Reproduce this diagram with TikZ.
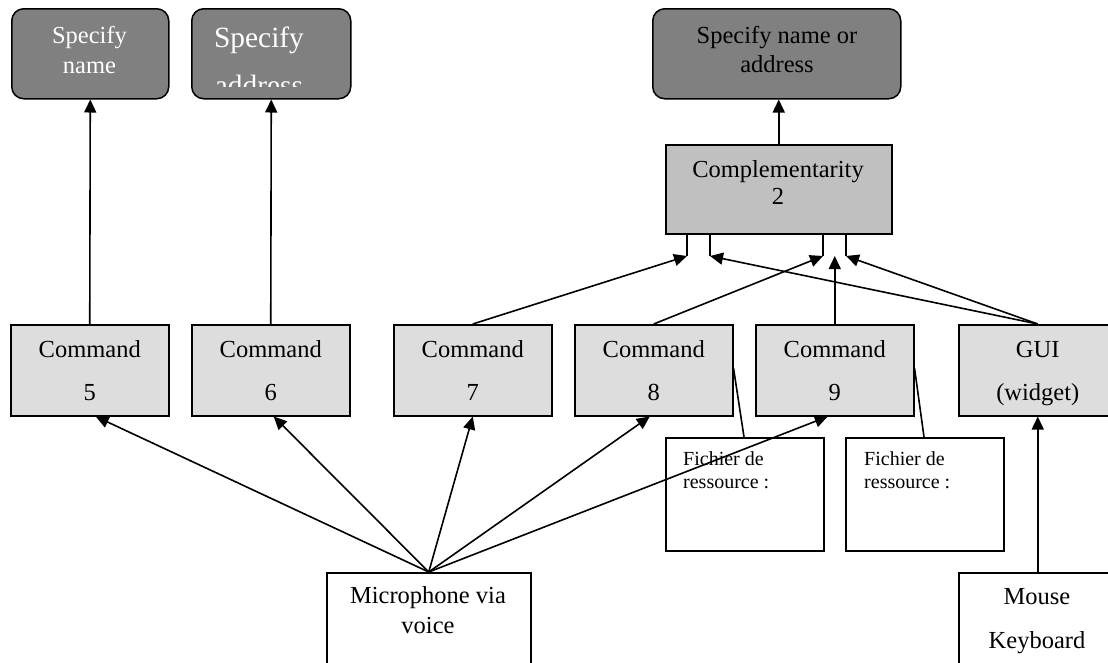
\documentclass[tikz,border=0pt]{standalone}
\usepackage{fontspec}
\setmainfont{Liberation Serif}
\usetikzlibrary{arrows.meta}
\definecolor{goaldark}{HTML}{808080}
\definecolor{compgray}{HTML}{C0C0C0}
\definecolor{cmdgray}{HTML}{DDDDDD}
\tikzset{
  box/.style={draw=black, line width=1.5pt, inner sep=0pt, anchor=north west},
  goal/.style={box, fill=goaldark, rounded corners=12pt},
  cmd/.style={box, fill=cmdgray, minimum width=158pt, minimum height=91pt},
  plain/.style={box, fill=white},
  txt/.style={anchor=base, inner sep=0pt, font=\fontsize{24.5}{28}\selectfont},
  wtxt/.style={txt, text=white},
  small/.style={anchor=base west, inner sep=0pt, font=\fontsize{20}{24}\selectfont},
  link/.style={line width=1.6pt},
  arr/.style={link, -{Triangle[length=13pt,width=12pt]}}
}
\begin{document}
\begin{tikzpicture}[x=1pt,y=-1pt]
\useasboundingbox (0,0) rectangle (1108,662);
\clip (0,0) rectangle (1108,662);

% goal boxes
\node[goal, minimum width=157pt, minimum height=90pt] (g1) at (11,8) {};
\node[goal, minimum width=159pt, minimum height=90pt] (g2) at (191,8) {};
\node[goal, minimum width=248pt, minimum height=90pt] (g3) at (652,8) {};
\node[wtxt] (g1a) at (89.5,43) {Specify};
\node[wtxt] (g1b) at (89.5,73) {name};
\node[txt] (g3a) at (777,43) {Specify name or};
\node[txt] (g3b) at (777,72) {address};
\begin{scope}
  \clip (195,12) rectangle (346,86);
  \node[wtxt, font=\fontsize{29.4}{34}\selectfont] (g2a) at (259,47) {Specify};
  \node[wtxt, font=\fontsize{29.4}{34}\selectfont] (g2b) at (259,95) {address};
\end{scope}

% complementarity
\node[box, fill=compgray, minimum width=226pt, minimum height=89pt] (comp) at (665,144) {};
\node[txt] (compa) at (778,177) {Complementarity};
\node[txt] (compb) at (778,204) {2};

% commands
\node[cmd] (c5) at (10,324) {};
\node[cmd] (c6) at (191,324) {};
\node[cmd] (c7) at (393,324) {};
\node[cmd] (c8) at (574,324) {};
\node[cmd] (c9) at (755,324) {};
\node[cmd] (gui) at (958,324) {};
\foreach \n/\t in {c5/5, c6/6, c7/7, c8/8, c9/9}{
  \node[txt] (\n a) at ([yshift=-33pt]\n.north) {Command};
  \node[txt] (\n b) at ([yshift=-76pt]\n.north) {\t};
}
\node[txt] (guia) at ([yshift=-33pt]gui.north) {GUI};
\node[txt] (guib) at ([yshift=-76pt]gui.north) {(widget)};

% resource files
\node[plain, minimum width=158pt, minimum height=113pt] (f1) at (665,437) {};
\node[plain, minimum width=158pt, minimum height=113pt] (f2) at (845,437) {};
\node[small] (f1a) at (683,465) {Fichier de};
\node[small] (f1b) at (683,488) {ressource :};
\node[small] (f2a) at (864,465) {Fichier de};
\node[small] (f2b) at (864,488) {ressource :};

% input devices
\node[plain, minimum width=204pt, minimum height=110pt] (mic) at (326,572) {};
\node[txt] (mica) at (428,603) {Microphone via};
\node[txt] (micb) at (428,633) {voice};
\node[plain, minimum width=158pt, minimum height=110pt] (kbd) at (958,572) {};
\node[txt] (kbda) at (1037,604) {Mouse};
\node[txt] (kbdb) at (1037,648) {Keyboard};

% joints below the complementarity box
\coordinate (ja1) at (687,256);
\coordinate (ja2) at (710,256);
\coordinate (jb1) at (823,256);
\coordinate (jb2) at (846,256);
\foreach \j in {ja1,ja2,jb1,jb2}{
  \draw[link] (comp.south -| \j) -- (\j);
}

% connectors
\draw[arr] (c5.north) -- (g1.south);
\draw[arr] (c6.north) -- (g2.south);
\draw[arr] (comp.north) -- (comp.north |- g3.south);
\draw[arr] (c7.north) -- (ja1);
\draw[arr] (gui.north) -- (ja2);
\draw[arr] (c8.north) -- (jb1);
\draw[arr] (gui.north) -- (jb2);
\draw[arr] (c9.north) -- (c9.north |- jb1);
\draw[arr] (mic.north) -- ([xshift=6pt]c5.south);
\draw[arr] (mic.north) -- ([xshift=3pt]c6.south);
\draw[arr] (mic.north) -- (c7.south);
\draw[arr] (mic.north) -- ([xshift=-4pt]c8.south);
\draw[arr] (mic.north) -- ([xshift=-7pt]c9.south);
\draw[arr] (kbd.north) -- (gui.south);
\draw[link] ([yshift=-44pt]c8.north east) -- ([xshift=79pt]f1.north west);
\draw[link] ([yshift=-44pt]c9.north east) -- ([xshift=79pt]f2.north west);
\end{tikzpicture}
\end{document}
